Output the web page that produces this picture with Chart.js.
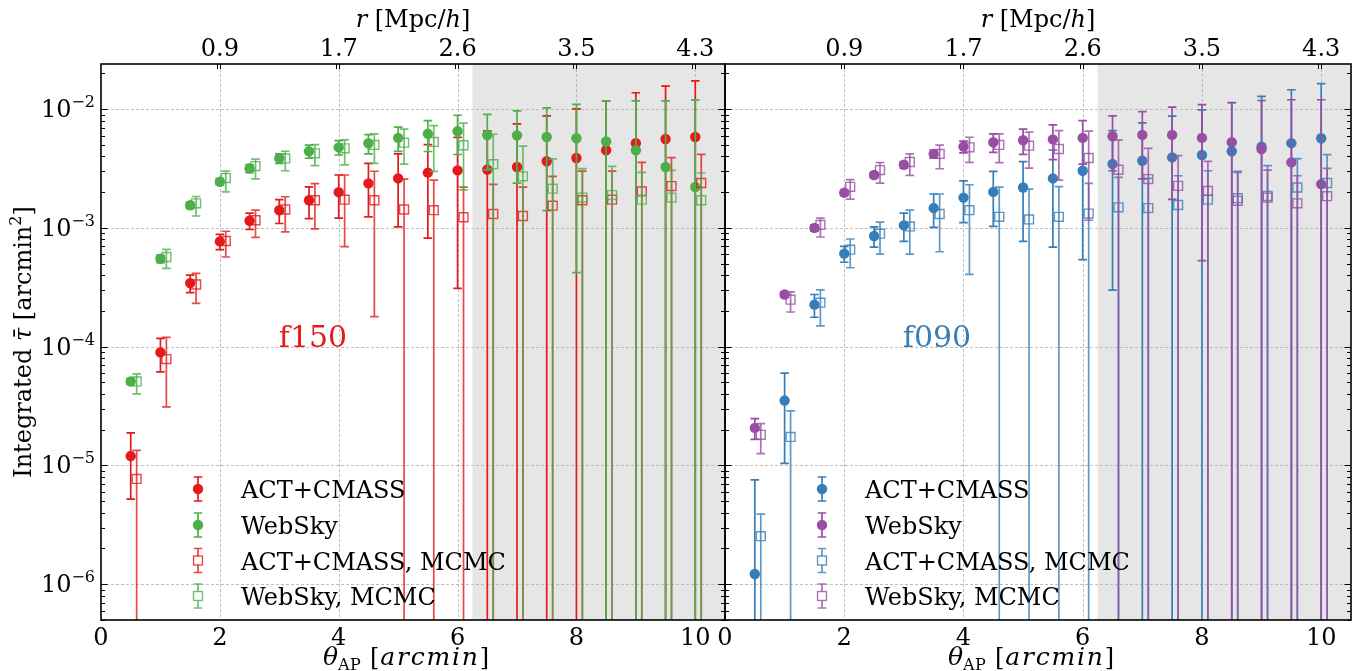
<!DOCTYPE html>
<html>
<head>
<meta charset="utf-8">
<script src="https://cdn.jsdelivr.net/npm/chart.js@4.4.0/dist/chart.umd.min.js"></script>
<style>
  html, body { margin: 0; padding: 0; background: #fff; }
  #wrap { position: relative; width: 1361px; height: 671px; overflow: hidden; }
  canvas { position: absolute; top: 0; }
  #c150 { left: 0; }
  #c090 { left: 700px; }
</style>
</head>
<body>
<div id="wrap">
  <canvas id="c150" width="727" height="671"></canvas>
  <canvas id="c090" width="661" height="671"></canvas>
</div>
<script>
// aperture radii (arcmin); MCMC points are drawn slightly to the right
const thetaAP = [0.5, 1.0, 1.5, 2.0, 2.5, 3.0, 3.5, 4.0, 4.5, 5.0, 5.5, 6.0, 6.5, 7.0, 7.5, 8.0, 8.5, 9.0, 9.5, 10.0];
const mcmcOffset = 0.1;
const shadeFrom = 6.25;

// top axis: r [Mpc/h]
const rTickTheta = [2, 4, 6, 8, 10];
const rTickLabels = ['0.9', '1.7', '2.6', '3.5', '4.3'];
const thetaTicks = [0, 2, 4, 6, 8, 10];

// ---- f150 ----
const act150 = [1.2e-5, 8.95e-5, 3.43e-4, 7.7e-4, 1.15e-3, 1.41e-3, 1.71e-3, 2.0e-3, 2.37e-3, 2.61e-3,
                2.92e-3, 3.05e-3, 3.10e-3, 3.26e-3, 3.64e-3, 3.88e-3, 4.51e-3, 5.16e-3, 5.61e-3, 5.83e-3];
const act150Err = [6.8e-6, 2.8e-5, 5.8e-5, 1.13e-4, 1.8e-4, 3.2e-4, 5.1e-4, 7.9e-4, 1.13e-3, 1.59e-3,
                   2.1e-3, 2.74e-3, 3.46e-3, 4.26e-3, 5.15e-3, 6.19e-3, 7.24e-3, 8.58e-3, 1.0e-2, 1.15e-2];
const web150 = [5.1e-5, 5.5e-4, 1.55e-3, 2.45e-3, 3.17e-3, 3.85e-3, 4.42e-3, 4.77e-3, 5.16e-3, 5.73e-3,
                6.2e-3, 6.52e-3, 6.06e-3, 6.02e-3, 5.83e-3, 5.69e-3, 5.34e-3, 4.51e-3, 3.26e-3, 2.21e-3];
const web150Err = [3e-6, 4e-5, 1.0e-4, 1.5e-4, 2.5e-4, 3.5e-4, 5.6e-4, 6.6e-4, 9.5e-4, 1.32e-3,
                   1.8e-3, 2.37e-3, 2.98e-3, 3.64e-3, 4.43e-3, 5.27e-3, 6.41e-3, 7.24e-3, 8.5e-3, 9.7e-3];
const act150Mcmc = [7.7e-6, 7.87e-5, 3.34e-4, 7.76e-4, 1.16e-3, 1.43e-3, 1.71e-3, 1.73e-3, 1.71e-3, 1.43e-3,
                    1.41e-3, 1.23e-3, 1.31e-3, 1.26e-3, 1.54e-3, 1.71e-3, 1.73e-3, 2.03e-3, 2.25e-3, 2.39e-3];
const act150McmcHi = [1.34e-5, 1.2e-4, 4.14e-4, 9.38e-4, 1.41e-3, 1.83e-3, 2.36e-3, 2.79e-3, 3.0e-3, 2.58e-3,
                      2.53e-3, 2.21e-3, 2.33e-3, 2.21e-3, 2.72e-3, 3.01e-3, 3.01e-3, 3.57e-3, 3.91e-3, 4.17e-3];
const act150McmcLo = [0, 3.12e-5, 2.32e-4, 5.69e-4, 8.34e-4, 9.25e-4, 9.82e-4, 6.95e-4, 1.79e-4, 0,
                      0, 0, 0, 0, 0, 0, 0, 0, 0, 0];
const web150Mcmc = [5.1e-5, 5.69e-4, 1.61e-3, 2.63e-3, 3.32e-3, 3.85e-3, 4.25e-3, 4.68e-3, 5.0e-3, 5.22e-3,
                    5.30e-3, 4.97e-3, 3.44e-3, 2.72e-3, 2.14e-3, 1.80e-3, 1.89e-3, 1.73e-3, 1.80e-3, 1.71e-3];
const web150McmcHi = [5.9e-5, 6.61e-4, 1.84e-3, 3.01e-3, 3.80e-3, 4.42e-3, 5.02e-3, 5.51e-3, 6.19e-3, 6.78e-3,
                      7.28e-3, 7.62e-3, 6.15e-3, 4.88e-3, 3.81e-3, 3.16e-3, 3.30e-3, 2.94e-3, 3.05e-3, 2.90e-3];
const web150McmcLo = [4.0e-5, 4.56e-4, 1.26e-3, 2.01e-3, 2.59e-3, 3.03e-3, 3.34e-3, 3.40e-3, 3.50e-3, 3.45e-3,
                      2.99e-3, 2.09e-3, 0, 0, 0, 0, 0, 0, 0, 0];

// ---- f090 ----
const act090 = [1.22e-6, 3.52e-5, 2.26e-4, 6.07e-4, 8.55e-4, 1.05e-3, 1.47e-3, 1.80e-3, 2.01e-3, 2.19e-3,
                2.61e-3, 3.03e-3, 3.45e-3, 3.68e-3, 3.93e-3, 4.11e-3, 4.42e-3, 4.84e-3, 5.17e-3, 5.69e-3];
const act090Err = [6.33e-6, 2.48e-5, 4.9e-5, 9.3e-5, 1.65e-4, 2.8e-4, 4.6e-4, 6.9e-4, 9.8e-4, 1.42e-3,
                   1.92e-3, 2.49e-3, 3.15e-3, 3.99e-3, 4.8e-3, 5.76e-3, 6.9e-3, 7.96e-3, 9.4e-3, 1.07e-2];
const web090 = [2.07e-5, 2.75e-4, 1.0e-3, 1.98e-3, 2.79e-3, 3.40e-3, 4.2e-3, 4.84e-3, 5.26e-3, 5.47e-3,
                5.57e-3, 5.73e-3, 5.91e-3, 6.07e-3, 6.07e-3, 5.73e-3, 5.26e-3, 4.62e-3, 3.56e-3, 2.34e-3];
const web090Err = [4.1e-6, 1.5e-5, 6e-5, 1.0e-4, 1.5e-4, 2.2e-4, 3.3e-4, 5.5e-4, 9.3e-4, 1.31e-3,
                   1.81e-3, 2.29e-3, 2.88e-3, 3.48e-3, 4.33e-3, 5.2e-3, 6.12e-3, 7.21e-3, 8.44e-3, 9.66e-3];
const act090Mcmc = [2.54e-6, 1.74e-5, 2.35e-4, 6.56e-4, 8.95e-4, 1.03e-3, 1.31e-3, 1.41e-3, 1.24e-3, 1.18e-3,
                    1.24e-3, 1.32e-3, 1.49e-3, 1.47e-3, 1.56e-3, 1.73e-3, 1.78e-3, 1.86e-3, 2.19e-3, 2.39e-3];
const act090McmcHi = [3.9e-6, 2.88e-5, 3.01e-4, 8.07e-4, 1.12e-3, 1.41e-3, 1.93e-3, 2.31e-3, 2.21e-3, 2.12e-3,
                      2.23e-3, 2.37e-3, 2.66e-3, 2.61e-3, 2.75e-3, 3.03e-3, 3.0e-3, 3.34e-3, 3.83e-3, 4.14e-3];
const act090McmcLo = [0, 0, 1.5e-4, 4.62e-4, 6.02e-4, 6.02e-4, 6.3e-4, 4.06e-4, 0, 0,
                      0, 0, 0, 0, 0, 0, 0, 0, 0, 0];
const web090Mcmc = [1.81e-5, 2.49e-4, 1.06e-3, 2.22e-3, 3.07e-3, 3.59e-3, 4.2e-3, 4.77e-3, 5.0e-3, 4.93e-3,
                    4.62e-3, 3.88e-3, 3.09e-3, 2.58e-3, 2.26e-3, 2.05e-3, 1.69e-3, 1.80e-3, 1.61e-3, 1.85e-3];
const web090McmcHi = [2.25e-5, 2.9e-4, 1.21e-3, 2.55e-3, 3.54e-3, 4.2e-3, 4.97e-3, 5.8e-3, 6.19e-3, 6.4e-3,
                      6.6e-3, 6.52e-3, 5.51e-3, 4.68e-3, 4.06e-3, 3.64e-3, 2.94e-3, 3.07e-3, 2.75e-3, 3.17e-3];
const web090McmcLo = [1.26e-5, 1.96e-4, 8.39e-4, 1.75e-3, 2.38e-3, 2.77e-3, 3.15e-3, 3.56e-3, 3.54e-3, 3.19e-3,
                      2.53e-3, 1.16e-3, 0, 0, 0, 0, 0, 0, 0, 0];

const legendLabels = ['ACT+CMASS', 'WebSky', 'ACT+CMASS, MCMC', 'WebSky, MCMC'];

const RED = '#e41a1c', GREEN = '#4daf4a', BLUE = '#377eb8', PURPLE = '#984ea3';
const MCMC_ALPHA = 0.8;
const FONT = 'DejaVu Serif';

function rgba(hex, a) {
    const n = parseInt(hex.slice(1), 16);
    return `rgba(${(n >> 16) & 255},${(n >> 8) & 255},${n & 255},${a})`;
}

// filled circles with symmetric errors
function circleSet(label, vals, errs, color, order) {
    return {
        label: label,
        data: thetaAP.map((t, i) => ({ x: t, y: vals[i] })),
        errLo: vals.map((v, i) => v - errs[i]),
        errHi: vals.map((v, i) => v + errs[i]),
        errColor: color,
        pointStyle: 'circle',
        pointRadius: 5.2,
        pointBackgroundColor: color,
        pointBorderColor: color,
        pointBorderWidth: 0,
        showLine: false,
        order: order
    };
}

// open squares with asymmetric (MCMC) errors
function squareSet(label, vals, lo, hi, color, order) {
    const c = rgba(color, MCMC_ALPHA);
    return {
        label: label,
        data: thetaAP.map((t, i) => ({ x: t + mcmcOffset, y: vals[i] })),
        errLo: lo,
        errHi: hi,
        errColor: c,
        pointStyle: 'rect',
        pointRadius: 6.3,
        pointBackgroundColor: 'rgba(0,0,0,0)',
        pointBorderColor: c,
        pointBorderWidth: 1.4,
        showLine: false,
        order: order
    };
}

// draws text made of runs with different fonts / offsets; sp = extra spacing per char
function drawRuns(ctx, runs, x, y, align) {
    let w = 0;
    runs.forEach(r => {
        ctx.font = r.font;
        r.w = ctx.measureText(r.t).width + (r.sp || 0) * r.t.length;
        w += r.w;
    });
    let cx = align === 'center' ? x - w / 2 : (align === 'right' ? x - w : x);
    ctx.textAlign = 'left';
    ctx.textBaseline = 'alphabetic';
    runs.forEach(r => {
        ctx.font = r.font;
        if (r.sp) {
            let px = cx;
            for (const ch of r.t) { ctx.fillText(ch, px, y + (r.dy || 0)); px += ctx.measureText(ch).width + r.sp; }
        } else {
            ctx.fillText(r.t, cx, y + (r.dy || 0));
        }
        cx += r.w;
    });
}

const F24 = '24px ' + FONT, I24 = 'italic 24px ' + FONT, F16 = '16px ' + FONT;
const I25 = 'italic 25px ' + FONT;

const panelPlugin = {
    id: 'panel',
    beforeDatasetsDraw(chart) {
        const ctx = chart.ctx, a = chart.chartArea;
        const xs = chart.scales.x, ys = chart.scales.y;
        ctx.save();
        // shaded region
        const xs0 = xs.getPixelForValue(shadeFrom);
        ctx.fillStyle = 'rgb(230,230,230)';
        ctx.fillRect(xs0, a.top, a.right - xs0, a.bottom - a.top);
        // dashed grid
        ctx.strokeStyle = '#b0b0b0';
        ctx.lineWidth = 0.8;
        ctx.setLineDash([3, 2]);
        thetaTicks.forEach(t => {
            if (t === 0) return;
            const px = Math.round(xs.getPixelForValue(t)) + 0.5;
            ctx.beginPath(); ctx.moveTo(px, a.top); ctx.lineTo(px, a.bottom); ctx.stroke();
        });
        for (let n = -6; n <= -2; n++) {
            const py = Math.round(ys.getPixelForValue(Math.pow(10, n))) + 0.5;
            ctx.beginPath(); ctx.moveTo(a.left, py); ctx.lineTo(a.right, py); ctx.stroke();
        }
        ctx.restore();
    },
    beforeDatasetDraw(chart, args) {
        const ds = chart.data.datasets[args.index];
        const ctx = chart.ctx, a = chart.chartArea;
        const xs = chart.scales.x, ys = chart.scales.y;
        ctx.save();
        ctx.beginPath(); ctx.rect(a.left, a.top, a.right - a.left, a.bottom - a.top); ctx.clip();
        ctx.strokeStyle = ds.errColor;
        ctx.lineWidth = 1.7;
        ds.data.forEach((p, i) => {
            const px = xs.getPixelForValue(p.x);
            const yHi = ys.getPixelForValue(ds.errHi[i]);
            const hasLo = ds.errLo[i] > 0;
            const yLo = hasLo ? ys.getPixelForValue(ds.errLo[i]) : a.bottom + 5;
            ctx.beginPath();
            ctx.moveTo(px, yHi); ctx.lineTo(px, yLo);
            ctx.moveTo(px - 4.3, yHi); ctx.lineTo(px + 4.3, yHi);
            if (hasLo) { ctx.moveTo(px - 4.3, yLo); ctx.lineTo(px + 4.3, yLo); }
            ctx.stroke();
        });
        ctx.restore();
    },
    afterDraw(chart) {
        const ctx = chart.ctx, a = chart.chartArea;
        const xs = chart.scales.x, ys = chart.scales.y;
        const o = chart.options.plugins.panel;
        ctx.save();
        ctx.fillStyle = '#000';
        ctx.strokeStyle = '#000';

        // y ticks, inward on both sides
        ctx.lineWidth = 1;
        for (let n = -7; n <= -2; n++) {
            for (let k = 1; k <= 9; k++) {
                const v = k * Math.pow(10, n);
                if (v < ys.min || v > ys.max) continue;
                const py = Math.round(ys.getPixelForValue(v)) + 0.5;
                const len = k === 1 ? 6.5 : 4;
                ctx.beginPath();
                ctx.moveTo(a.left, py); ctx.lineTo(a.left + len, py);
                ctx.moveTo(a.right, py); ctx.lineTo(a.right - len, py);
                ctx.stroke();
            }
        }
        // top ticks (theta and r axes almost coincide)
        rTickTheta.forEach(t => {
            [t - 0.05, t].forEach(tt => {
                const px = Math.round(xs.getPixelForValue(tt)) + 0.5;
                ctx.beginPath(); ctx.moveTo(px, a.top); ctx.lineTo(px, a.top + 5); ctx.stroke();
            });
        });

        // frame
        ctx.lineWidth = 1.6;
        ctx.strokeRect(a.left, a.top, a.right - a.left, a.bottom - a.top);

        // tick labels
        thetaTicks.forEach(t => {
            drawRuns(ctx, [{ t: String(t), font: F24 }], xs.getPixelForValue(t), a.bottom + 25, 'center');
        });
        rTickTheta.forEach((t, i) => {
            drawRuns(ctx, [{ t: rTickLabels[i], font: F24 }], xs.getPixelForValue(t), a.top - 8, 'center');
        });
        if (o.yLabels) {
            for (let n = -6; n <= -2; n++) {
                const py = ys.getPixelForValue(Math.pow(10, n));
                drawRuns(ctx, [{ t: '10', font: F24 }, { t: '\u2212' + (-n), font: F16, dy: -10 }], a.left - 6, py + 8, 'right');
            }
            ctx.save();
            ctx.translate(31, (a.top + a.bottom) / 2);
            ctx.rotate(-Math.PI / 2);
            drawRuns(ctx, [{ t: 'Integrated ', font: F24 }, { t: '\u03c4\u0304', font: I24 },
                           { t: ' [arcmin', font: F24 }, { t: '2', font: F16, dy: -10 }, { t: ']', font: F24 }], 0, 0, 'center');
            ctx.restore();
        }

        // axis titles
        const cx = (a.left + a.right) / 2;
        drawRuns(ctx, [{ t: '\u03b8', font: I25 }, { t: 'AP', font: F16, dy: 5, sp: 0.5 }, { t: ' [', font: F24, sp: 1 },
                       { t: 'arcmin', font: I25, sp: 1.8 }, { t: ']', font: F24 }], cx - 7, 665, 'center');
        drawRuns(ctx, [{ t: 'r', font: I24 }, { t: ' [Mpc/', font: F24 }, { t: 'h', font: I24 }, { t: ']', font: F24 }],
                 cx, 27, 'center');

        // band label
        ctx.fillStyle = o.tagColor;
        drawRuns(ctx, [{ t: o.tag, font: '30px ' + FONT }], a.left + 212, 347, 'center');

        // legend
        const rows = [489, 525, 560.5, 596];
        const mx = a.left + 97, tx = a.left + 140;
        chart.data.datasets.forEach((ds, i) => {
            const y = rows[i];
            ctx.strokeStyle = ds.errColor;
            ctx.lineWidth = 1.7;
            ctx.beginPath();
            ctx.moveTo(mx, y - 12); ctx.lineTo(mx, y + 12);
            ctx.moveTo(mx - 4.3, y - 12); ctx.lineTo(mx + 4.3, y - 12);
            ctx.moveTo(mx - 4.3, y + 12); ctx.lineTo(mx + 4.3, y + 12);
            ctx.stroke();
            if (ds.pointStyle === 'circle') {
                ctx.fillStyle = ds.pointBackgroundColor;
                ctx.beginPath(); ctx.arc(mx, y, 5.2, 0, Math.PI * 2); ctx.fill();
            } else {
                const h = 6.3 * Math.SQRT1_2;
                ctx.fillStyle = '#fff';
                ctx.strokeStyle = ds.pointBorderColor;
                ctx.lineWidth = 1.4;
                ctx.fillRect(mx - h, y - h, 2 * h, 2 * h);
                ctx.strokeRect(mx - h, y - h, 2 * h, 2 * h);
            }
            ctx.fillStyle = '#000';
            drawRuns(ctx, [{ t: ds.label, font: F24 }], tx, y + 9, 'left');
        });
        ctx.restore();
    }
};

function makePanel(id, datasets, opts) {
    const ctx = document.getElementById(id).getContext('2d');
    return new Chart(ctx, {
        type: 'scatter',
        data: { datasets: datasets },
        plugins: [panelPlugin],
        options: {
            responsive: false,
            animation: false,
            devicePixelRatio: 1,
            layout: { padding: opts.padding, autoPadding: false },
            scales: {
                x: {
                    type: 'linear', min: 0, max: 10.5,
                    ticks: { display: false }, grid: { display: false }, border: { display: false },
                    afterFit: s => { s.height = 51; }
                },
                y: {
                    type: 'logarithmic', min: 5e-7, max: 2.4e-2,
                    ticks: { display: false }, grid: { display: false }, border: { display: false },
                    afterFit: s => { s.width = opts.yWidth; }
                }
            },
            plugins: {
                legend: { display: false },
                tooltip: { enabled: false },
                panel: { yLabels: opts.yLabels, tag: opts.tag, tagColor: opts.tagColor }
            }
        }
    });
}

makePanel('c150', [
    circleSet(legendLabels[0], act150, act150Err, RED, 4),
    circleSet(legendLabels[1], web150, web150Err, GREEN, 3),
    squareSet(legendLabels[2], act150Mcmc, act150McmcLo, act150McmcHi, RED, 2),
    squareSet(legendLabels[3], web150Mcmc, web150McmcLo, web150McmcHi, GREEN, 1)
], { padding: { top: 64, left: 0, right: 2, bottom: 0 }, yWidth: 101, yLabels: true, tag: 'f150', tagColor: RED });

makePanel('c090', [
    circleSet(legendLabels[0], act090, act090Err, BLUE, 4),
    circleSet(legendLabels[1], web090, web090Err, PURPLE, 3),
    squareSet(legendLabels[2], act090Mcmc, act090McmcLo, act090McmcHi, BLUE, 2),
    squareSet(legendLabels[3], web090Mcmc, web090McmcLo, web090McmcHi, PURPLE, 1)
], { padding: { top: 64, left: 25, right: 10, bottom: 0 }, yWidth: 0, yLabels: false, tag: 'f090', tagColor: BLUE });
</script>
</body>
</html>
